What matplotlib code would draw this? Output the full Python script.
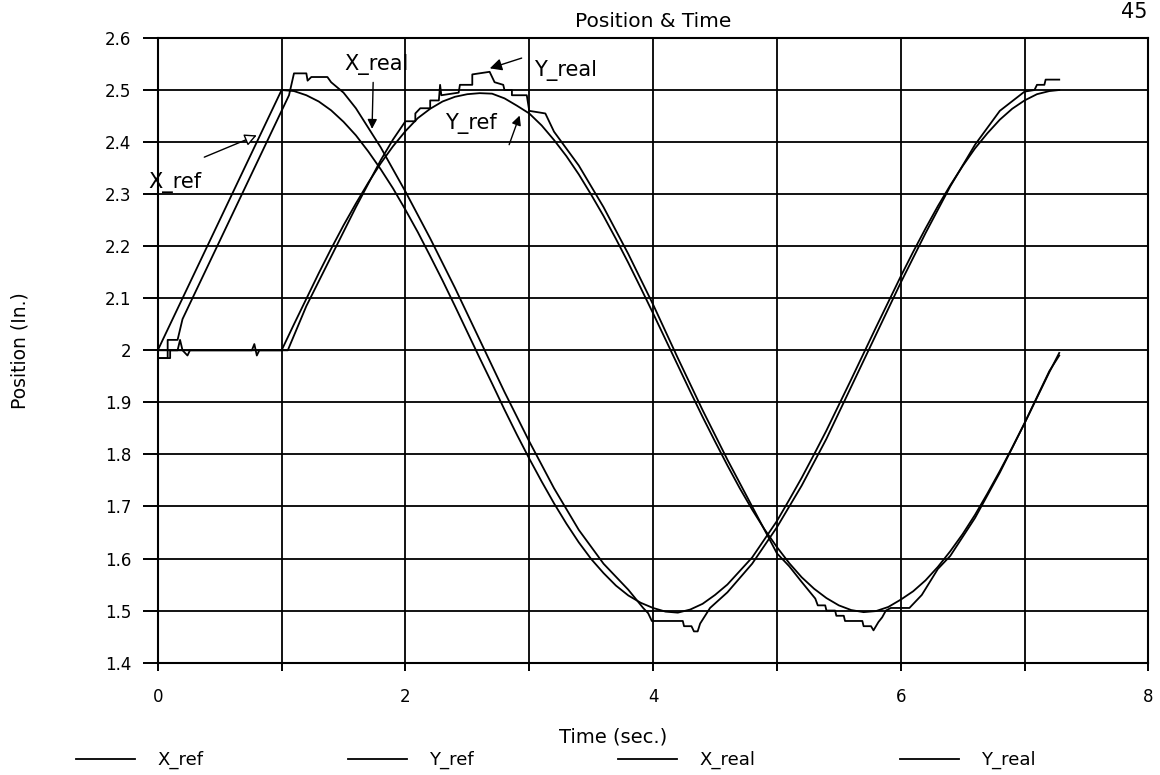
#Position & Time plot : reference path vs measured path (X and Y)
import matplotlib
matplotlib.use("Agg")
import matplotlib.pyplot as plt

# reference trajectory (time in sec., position in in.)
t_ref = [0.0, 0.2, 0.4, 0.6, 0.8, 1.0, 1.1, 1.2, 1.3, 1.4, 1.5, 1.6, 1.7, 1.8, 1.9,
         2.0, 2.1, 2.2, 2.3, 2.4, 2.5, 2.6, 2.7, 2.8, 2.9, 3.0, 3.1, 3.2, 3.3, 3.4,
         3.5, 3.6, 3.7, 3.8, 3.9, 4.0, 4.1, 4.2, 4.3, 4.4, 4.5, 4.6, 4.7, 4.8, 4.9,
         5.0, 5.1, 5.2, 5.3, 5.4, 5.5, 5.6, 5.7, 5.8, 5.9, 6.0, 6.1, 6.2, 6.3, 6.4,
         6.5, 6.6, 6.7, 6.8, 6.9, 7.0, 7.1, 7.2, 7.28]
x_ref = [2.000, 2.100, 2.200, 2.300, 2.400, 2.500, 2.498, 2.490, 2.478, 2.461, 2.439,
         2.413, 2.382, 2.348, 2.311, 2.270, 2.227, 2.181, 2.134, 2.085, 2.035, 1.985,
         1.936, 1.886, 1.838, 1.792, 1.748, 1.706, 1.667, 1.631, 1.599, 1.572, 1.548,
         1.529, 1.515, 1.505, 1.498, 1.496, 1.502, 1.513, 1.530, 1.550, 1.576, 1.602,
         1.637, 1.672, 1.713, 1.755, 1.800, 1.846, 1.895, 1.944, 1.994, 2.044, 2.093,
         2.142, 2.189, 2.234, 2.277, 2.317, 2.354, 2.388, 2.417, 2.443, 2.464, 2.480,
         2.492, 2.498, 2.500]
y_ref = [2.000, 2.000, 2.000, 2.000, 2.000, 2.000, 2.050, 2.099, 2.148, 2.195, 2.240,
         2.282, 2.322, 2.359, 2.392, 2.421, 2.446, 2.464, 2.478, 2.487, 2.492, 2.494,
         2.493, 2.484, 2.470, 2.455, 2.432, 2.404, 2.373, 2.338, 2.299, 2.258, 2.214,
         2.168, 2.120, 2.071, 2.021, 1.971, 1.921, 1.872, 1.825, 1.779, 1.735, 1.694,
         1.656, 1.622, 1.591, 1.564, 1.542, 1.524, 1.510, 1.501, 1.497, 1.499, 1.507,
         1.521, 1.537, 1.558, 1.584, 1.614, 1.647, 1.684, 1.725, 1.768, 1.813, 1.860,
         1.909, 1.958, 1.995]

# measured X position
t_xreal = [0.00, 0.08, 0.08, 0.16, 0.20, 0.30, 0.40, 0.50, 0.60, 0.70, 0.80, 0.90,
           1.00, 1.06, 1.10, 1.20, 1.21, 1.24, 1.37, 1.40, 1.45, 1.50, 1.60, 1.72,
           1.80, 2.00, 2.20, 2.40, 2.60, 2.80, 3.00, 3.20, 3.40, 3.60, 3.80, 3.92,
           3.96, 3.99, 4.24, 4.25, 4.31, 4.33, 4.36, 4.38, 4.42, 4.46, 4.60, 4.80,
           5.00, 5.20, 5.40, 5.60, 5.80, 6.00, 6.20, 6.40, 6.60, 6.80, 7.00, 7.08,
           7.10, 7.16, 7.17, 7.28]
x_real = [1.985, 1.985, 2.020, 2.020, 2.060, 2.110, 2.160, 2.210, 2.260, 2.310, 2.360,
          2.410, 2.460, 2.490, 2.532, 2.532, 2.518, 2.525, 2.525, 2.515, 2.505, 2.495,
          2.465, 2.420, 2.390, 2.305, 2.215, 2.120, 2.020, 1.920, 1.825, 1.735, 1.655,
          1.590, 1.540, 1.505, 1.495, 1.480, 1.480, 1.470, 1.470, 1.460, 1.460, 1.475,
          1.490, 1.505, 1.535, 1.590, 1.660, 1.740, 1.830, 1.930, 2.030, 2.130, 2.225,
          2.315, 2.395, 2.460, 2.497, 2.500, 2.510, 2.510, 2.520, 2.520]

# measured Y position
t_yreal = [0.00, 0.10, 0.10, 0.16, 0.18, 0.20, 0.24, 0.26, 0.76, 0.78, 0.80, 0.82,
           1.00, 1.05, 1.20, 1.40, 1.60, 1.80, 1.90, 2.00, 2.08, 2.08, 2.12, 2.20,
           2.20, 2.27, 2.28, 2.29, 2.43, 2.44, 2.54, 2.54, 2.68, 2.72, 2.79, 2.80,
           2.86, 2.86, 2.98, 3.00, 3.13, 3.20, 3.40, 3.60, 3.80, 4.00, 4.20, 4.40,
           4.60, 4.80, 5.00, 5.10, 5.20, 5.31, 5.33, 5.39, 5.40, 5.47, 5.48, 5.54,
           5.55, 5.69, 5.70, 5.76, 5.78, 5.80, 5.82, 5.85, 5.88, 5.92, 6.07, 6.17,
           6.30, 6.40, 6.60, 6.80, 7.00, 7.20, 7.28]
y_real = [1.985, 1.985, 2.000, 2.000, 2.020, 2.000, 1.990, 2.000, 2.000, 2.012, 1.990,
          2.000, 2.000, 2.000, 2.085, 2.180, 2.275, 2.365, 2.405, 2.440, 2.440, 2.455,
          2.465, 2.465, 2.480, 2.480, 2.510, 2.490, 2.495, 2.510, 2.510, 2.530, 2.535,
          2.515, 2.510, 2.500, 2.500, 2.490, 2.490, 2.460, 2.455, 2.420, 2.355, 2.275,
          2.185, 2.088, 1.985, 1.885, 1.790, 1.700, 1.610, 1.585, 1.555, 1.523, 1.510,
          1.510, 1.500, 1.500, 1.490, 1.490, 1.480, 1.480, 1.470, 1.470, 1.462, 1.470,
          1.478, 1.487, 1.500, 1.505, 1.505, 1.530, 1.580, 1.605, 1.678, 1.765, 1.860,
          1.960, 1.990]

x_ticks = [0, 1, 2, 3, 4, 5, 6, 7, 8]
x_tick_labels = ["0", "", "2", "", "4", "", "6", "", "8"]
y_ticks = [1.4, 1.5, 1.6, 1.7, 1.8, 1.9, 2.0, 2.1, 2.2, 2.3, 2.4, 2.5, 2.6]
y_tick_labels = ["1.4", "1.5", "1.6", "1.7", "1.8", "1.9", "2",
                 "2.1", "2.2", "2.3", "2.4", "2.5", "2.6"]


def main():
    fig = plt.figure(figsize=(11.6, 7.75), dpi=100)
    ax = fig.add_axes([0.136, 0.145, 0.854, 0.806])

    ax.plot(t_ref, x_ref, color="black", linewidth=1.3, label="X_ref")
    ax.plot(t_ref, y_ref, color="black", linewidth=1.3, label="Y_ref")
    ax.plot(t_xreal, x_real, color="black", linewidth=1.3, label="X_real")
    ax.plot(t_yreal, y_real, color="black", linewidth=1.3, label="Y_real")

    ax.set_xlim(0, 8)
    ax.set_ylim(1.4, 2.6)
    ax.set_xticks(x_ticks)
    ax.set_xticklabels(x_tick_labels, fontsize=12)
    ax.set_yticks(y_ticks)
    ax.set_yticklabels(y_tick_labels, fontsize=12)
    ax.tick_params(axis="y", length=11, width=1.4, pad=8)
    ax.tick_params(axis="x", length=6, width=1.4, pad=12)
    ax.grid(True, color="black", linewidth=1.3)
    for s in ax.spines.values():
        s.set_linewidth(1.5)

    ax.set_title("Position & Time", fontsize=14.5, pad=8)
    ax.set_xlabel("Time (sec.)", fontsize=14)
    ax.xaxis.set_label_coords(0.46, -0.104)
    ax.set_ylabel("Position (In.)", fontsize=13.5)
    ax.yaxis.set_label_coords(-0.129, 0.5)

    #labels with arrows on the curves
    ax.text(0.14, 2.322, "X_ref", fontsize=15, ha="center", va="center")
    ax.annotate("", xy=(0.82, 2.415), xytext=(0.355, 2.369),
                arrowprops=dict(arrowstyle="-|>", color="black", fc="white",
                                lw=1.0, mutation_scale=18))
    ax.text(1.77, 2.55, "X_real", fontsize=15, ha="center", va="center")
    ax.annotate("", xy=(1.73, 2.42), xytext=(1.74, 2.52),
                arrowprops=dict(arrowstyle="-|>", color="black", lw=1.0,
                                mutation_scale=14))
    ax.text(2.53, 2.435, "Y_ref", fontsize=15, ha="center", va="center")
    ax.annotate("", xy=(2.93, 2.456), xytext=(2.83, 2.39),
                arrowprops=dict(arrowstyle="-|>", color="black", lw=1.0,
                                mutation_scale=14))
    ax.text(3.04, 2.538, "Y_real", fontsize=15, ha="left", va="center")
    ax.annotate("", xy=(2.66, 2.54), xytext=(2.96, 2.563),
                arrowprops=dict(arrowstyle="-|>", color="black", lw=1.0,
                                mutation_scale=18))

    fig.text(0.978, 0.985, "45", fontsize=15, ha="center", va="center")

    fig.legend(loc="center", bbox_to_anchor=(0.479, 0.019), ncol=4, frameon=False,
               handlelength=3.3, handletextpad=1.2, columnspacing=8, fontsize=13)

    fig.savefig("out.png", dpi=100)


if __name__ == "__main__":
    main()
